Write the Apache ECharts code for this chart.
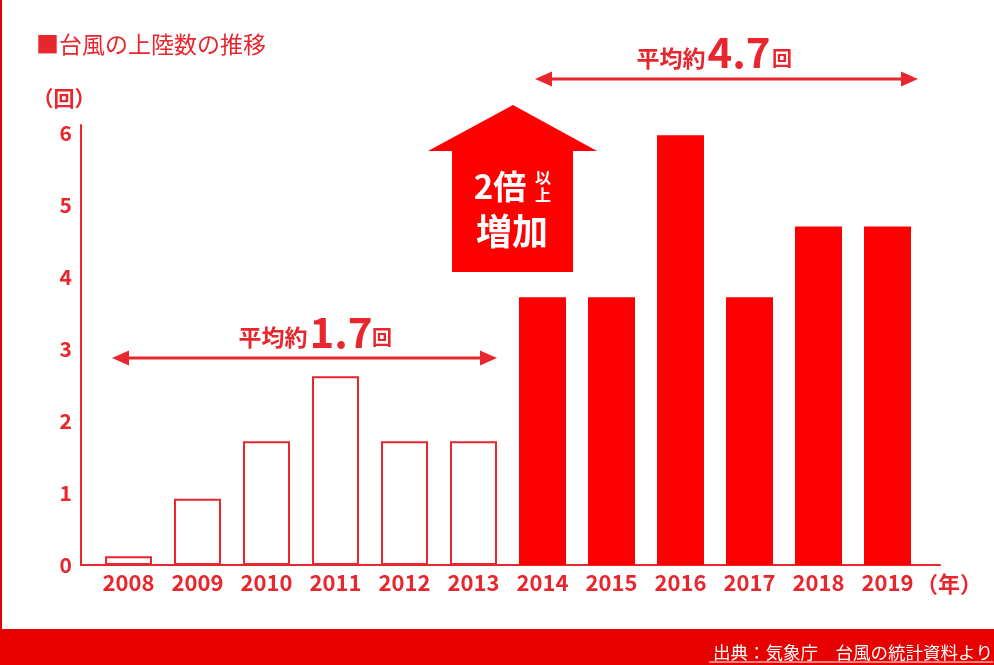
<!DOCTYPE html>
<html>
<head>
<meta charset="utf-8">
<script src="https://cdn.jsdelivr.net/npm/echarts@6/dist/echarts.min.js"></script>
<style>
html, body { margin: 0; padding: 0; background: #fff; }
#main { width: 994px; height: 665px; }
</style>
</head>
<body>
<div id="main"></div>
<script type="text/javascript">
// 台風の上陸数
var years = ['2008', '2009', '2010', '2011', '2012', '2013', '2014', '2015', '2016', '2017', '2018', '2019'];
var landings = [0.12, 0.92, 1.72, 2.62, 1.72, 1.72, 3.72, 3.72, 5.97, 3.72, 4.7, 4.7];
var yTicks = [0, 1, 2, 3, 4, 5, 6];

var RED = '#e8262d';
var FILL = '#fa0000';
var JP = '"Noto Sans CJK JP", "Noto Sans", sans-serif';

var barData = [];
for (var i = 0; i < years.length; i++) {
    var later = +years[i] >= 2014;
    barData.push({
        value: landings[i],
        itemStyle: later ? { color: FILL, borderWidth: 0 } : { color: '#fff', borderColor: RED, borderWidth: 2 }
    });
}

var txt = function(text, x, y, size, color, align, weight) {
    return {
        type: 'text',
        z: 10,
        style: {
            text: text, x: x, y: y,
            fill: color,
            font: (weight || 'bold') + ' ' + size + 'px ' + JP,
            textAlign: align || 'center', textVerticalAlign: 'middle',
            align: align || 'center', verticalAlign: 'middle'
        }
    };
};

// 両矢印
var arrow = function(x1, x2, y) {
    var head = 17, hh = 7.5;
    return [
        { type: 'line', z: 10, shape: { x1: x1 + head - 2, y1: y, x2: x2 - head + 2, y2: y }, style: { stroke: RED, lineWidth: 3 } },
        { type: 'polygon', z: 10, shape: { points: [[x1, y], [x1 + head, y - hh], [x1 + head, y + hh]] }, style: { fill: RED } },
        { type: 'polygon', z: 10, shape: { points: [[x2, y], [x2 - head, y - hh], [x2 - head, y + hh]] }, style: { fill: RED } }
    ];
};

var graphics = [
    { type: 'rect', shape: { x: 0, y: 0, width: 2, height: 629 }, style: { fill: '#e60000' } },
    { type: 'rect', shape: { x: 0, y: 629, width: 994, height: 36 }, style: { fill: '#e60000' } },
    txt('出典：気象庁　台風の統計資料より', 993, 652, 17.5, '#fff', 'right', 'normal'),
    { type: 'line', shape: { x1: 709, y1: 662, x2: 993, y2: 662 }, style: { stroke: '#fff', lineWidth: 1 } },
    txt('■台風の上陸数の推移', 36, 44, 23, RED, 'left', 'normal'),
    txt('（回）', 64, 98, 21, RED),
    txt('（年）', 949, 584, 22, RED),
    // 2倍以上増加の矢印
    { type: 'polygon', z: 9, shape: { points: [[513, 105], [597, 151], [573, 151], [573, 272], [452, 272], [452, 151], [428, 151]] }, style: { fill: '#ff0000' } },
    txt('2倍', 500, 186, 33, '#fff'),
    txt('以', 543, 178, 16, '#fff'),
    txt('上', 543, 195, 16, '#fff'),
    txt('増加', 512, 231, 36, '#fff'),
    // 平均
    txt('平均約', 273, 337, 23, RED),
    txt('1.7', 341, 332, 42, RED),
    txt('回', 382, 337, 20, RED),
    txt('平均約', 671, 58, 23, RED),
    txt('4.7', 739, 52, 42, RED),
    txt('回', 782, 58, 20, RED)
].concat(arrow(112, 497, 358)).concat(arrow(535, 918, 79));

var option = {
    backgroundColor: '#fff',
    animation: false,
    grid: [
        { left: 94, top: 133, width: 828, height: 432 },
        { left: 81, top: 125, width: 859, height: 440 }
    ],
    xAxis: [{
        type: 'category',
        data: years,
        axisLine: { show: false },
        axisTick: { show: false },
        axisLabel: { interval: 0, hideOverlap: false, color: RED, fontSize: 22, fontWeight: 'bold', fontFamily: JP, margin: 7 }
    }, {
        gridIndex: 1, type: 'value', min: 0, max: 1,
        axisLine: { show: true, lineStyle: { color: RED, width: 2 } },
        axisTick: { show: false }, axisLabel: { show: false }, splitLine: { show: false }
    }],
    yAxis: [{
        type: 'value',
        min: yTicks[0],
        max: yTicks[yTicks.length - 1],
        interval: 1,
        offset: 13,
        axisLine: { show: false },
        axisTick: { show: false },
        splitLine: { show: false },
        axisLabel: { color: RED, fontSize: 21, fontWeight: 'bold', fontFamily: JP, margin: 9 }
    }, {
        gridIndex: 1, type: 'value', min: 0, max: 1,
        axisLine: { show: true, lineStyle: { color: RED, width: 2 } },
        axisTick: { show: false }, axisLabel: { show: false }, splitLine: { show: false }
    }],
    series: [{
        type: 'bar',
        barWidth: 47,
        data: barData
    }],
    graphic: graphics
};

var chart = echarts.init(document.getElementById('main'));
chart.setOption(option);
</script>
</body>
</html>
